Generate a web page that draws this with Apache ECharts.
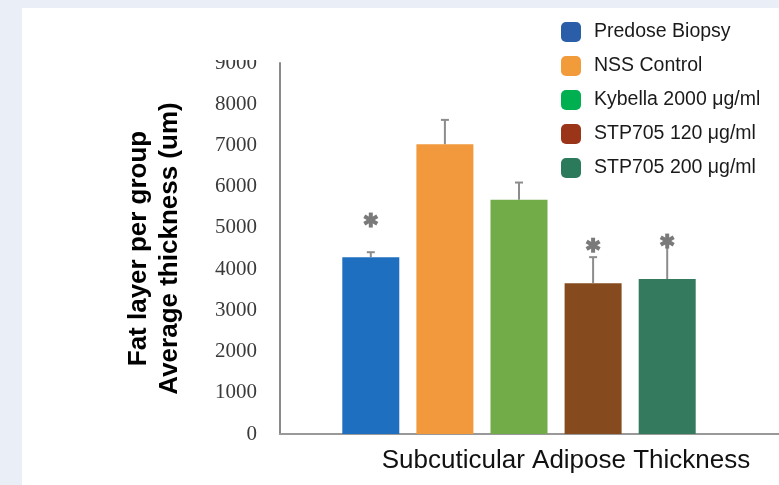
<!DOCTYPE html>
<html>
<head>
<meta charset="utf-8">
<script src="https://cdn.jsdelivr.net/npm/echarts@6/dist/echarts.min.js"></script>
<style>
  html, body { margin: 0; padding: 0; background: #e9eef7; }
  #panel { position: absolute; left: 22px; top: 8px; width: 757px; height: 477px; background: #ffffff; }
  #main { position: absolute; left: 0; top: 0; width: 779px; height: 485px; }
</style>
</head>
<body>
<div id="panel"></div>
<div id="main"></div>
<script>
// ---- data ----
const categories = ['Subcuticular Adipose Thickness'];
const groups = ['Predose Biopsy', 'NSS Control', 'Kybella 2000 μg/ml', 'STP705 120 μg/ml', 'STP705 200 μg/ml'];
const means = [4290, 7030, 5680, 3660, 3760];
const errorTops = [4410, 7620, 6100, 4290, 4620];
const significanceMarks = [5190, null, null, 4580, 4680];
const yTicks = { min: 0, max: 9000, interval: 1000 };

// ---- styles ----
const barColors = ['#1f6fc0', '#f2993d', '#71ac48', '#854b1e', '#337a5e'];
const legendColors = ['#2b5ea8', '#f29b3a', '#00b050', '#9b3519', '#2b7a5c'];
const BAR_WIDTH = 57;
const BAR_GAP = 0.30;
const PITCH = BAR_WIDTH * (1 + BAR_GAP);

const chart = echarts.init(document.getElementById('main'), null, { renderer: 'canvas' });

const barSeries = groups.map((g, i) => ({
  name: g,
  type: 'bar',
  data: [means[i]],
  barWidth: BAR_WIDTH,
  barGap: (BAR_GAP * 100) + '%',
  itemStyle: { color: barColors[i] },
  z: 2
}));

const errData = groups.map((g, i) => [0, errorTops[i], means[i], significanceMarks[i] == null ? NaN : significanceMarks[i], i]);

const errSeries = {
  type: 'custom',
  name: 'err',
  z: 5,
  silent: true,
  encode: { x: 0, y: [1, 2] },
  data: errData,
  renderItem: function (params, api) {
    const top = api.value(1), mean = api.value(2), sig = api.value(3), idx = api.value(4);
    const n = groups.length;
    const c = api.coord([0, mean]);
    const t = api.coord([0, top]);
    const x = c[0] + (idx - (n - 1) / 2) * PITCH;
    const lineStyle = { stroke: '#8c8c8c', lineWidth: 2 };
    const children = [
      { type: 'line', shape: { x1: x, y1: c[1], x2: x, y2: t[1] }, style: lineStyle },
      { type: 'line', shape: { x1: x - 4, y1: t[1], x2: x + 4, y2: t[1] }, style: lineStyle }
    ];
    if (!isNaN(sig)) {
      const s = api.coord([0, sig]);
      const r = 7.5;
      for (let k = 0; k < 3; k++) {
        const a = Math.PI / 2 + k * Math.PI / 3;
        children.push({
          type: 'line',
          shape: { x1: x - r * Math.cos(a), y1: s[1] - r * Math.sin(a), x2: x + r * Math.cos(a), y2: s[1] + r * Math.sin(a) },
          style: { stroke: '#7a7a7a', lineWidth: 4 }
        });
      }
    }
    return { type: 'group', children: children };
  }
};

const option = {
  animation: false,
  backgroundColor: 'transparent',
  grid: { left: 280, top: 63, right: 21, bottom: 51, containLabel: false },
  legend: {
    orient: 'vertical',
    left: 556,
    top: 17,
    itemWidth: 20,
    itemHeight: 20,
    itemGap: 14,
    icon: 'roundRect',
    selectedMode: false,
    textStyle: { fontFamily: 'Liberation Sans', fontSize: 19.5, color: '#1a1a1a', padding: [8, 0, 0, 8] },
    data: groups.map((g, i) => ({ name: g, itemStyle: { color: legendColors[i] } }))
  },
  xAxis: {
    type: 'category',
    data: categories,
    axisLine: { show: true, lineStyle: { color: '#999999', width: 2 } },
    axisTick: { show: false },
    axisLabel: { show: false },
    name: categories[0],
    nameLocation: 'middle',
    nameGap: 14,
    nameTextStyle: { fontFamily: 'Liberation Sans', fontSize: 26, color: '#111111', padding: [0, 0, 0, 94], verticalAlign: 'top' }
  },
  yAxis: {
    type: 'value',
    min: yTicks.min,
    max: yTicks.max,
    interval: yTicks.interval,
    splitLine: { show: false },
    axisTick: { show: false },
    axisLine: { show: true, lineStyle: { color: '#8a8a8a', width: 2 } },
    axisLabel: { fontFamily: 'Liberation Serif', fontSize: 21, color: '#3a3a3a', margin: 23, formatter: v => String(v) },
    name: 'Fat layer per group\nAverage thickness (um)',
    nameLocation: 'middle',
    nameGap: 95,
    nameTextStyle: { fontFamily: 'Liberation Sans', fontWeight: 'bold', fontSize: 26, lineHeight: 31, color: '#000000', padding: [0, 0, 0, 0] }
  },
  graphic: [
    { type: 'rect', shape: { x: 195, y: 20, width: 78, height: 40 }, style: { fill: '#ffffff' }, z: 100, silent: true },
    { type: 'line', shape: { x1: 758, y1: 434, x2: 779, y2: 434 }, style: { stroke: '#999999', lineWidth: 2 }, z: 10, silent: true }
  ],
  series: barSeries.concat([errSeries])
};

chart.setOption(option);
</script>
</body>
</html>
